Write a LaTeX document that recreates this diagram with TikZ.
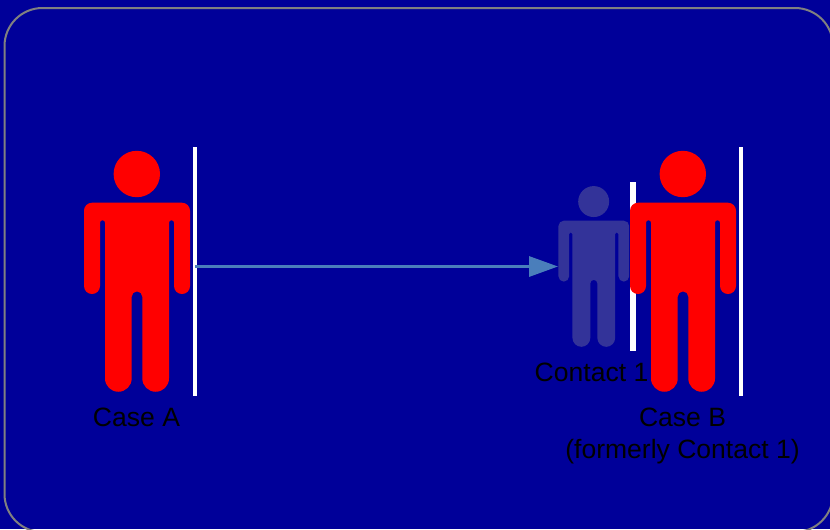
\documentclass[tikz,border=0pt]{standalone}
\usepackage{fontspec}
\setmainfont{Liberation Sans}
\usetikzlibrary{arrows.meta}
\definecolor{bgblue}{HTML}{000099}
\definecolor{dimblue}{HTML}{333399}
\definecolor{arrowblue}{HTML}{4A7EBB}
\tikzset{
  person/.pic={
    \fill[pic actions] (-0.2,28.7) circle[radius=23.2];
    \fill[pic actions] (-45,0) -- (45,0) arc[start angle=90,end angle=0,radius=8]
      -- (53,-83.3) arc[start angle=0,end angle=-180,radius=8]
      -- (37,-20) arc[start angle=0,end angle=180,radius=2.5]
      -- (32,-175.7) arc[start angle=0,end angle=-180,radius=13.35]
      -- (5.3,-94) arc[start angle=0,end angle=180,radius=5.3]
      -- (-5.3,-175.7) arc[start angle=0,end angle=-180,radius=13.35]
      -- (-32,-20) arc[start angle=0,end angle=180,radius=2.5]
      -- (-37,-83.3) arc[start angle=0,end angle=-180,radius=8]
      -- (-53,-8) arc[start angle=180,end angle=90,radius=8] -- cycle;
  },
  whitebar/.style={fill=white,draw=none,inner sep=0pt,minimum width=3pt,anchor=north},
  caption/.style={text=black,inner sep=0pt,anchor=base,font=\fontsize{19.9}{24}\selectfont},
  frame/.style={draw=gray,line width=1.5pt,rounded corners=28.5pt},
  link/.style={draw=arrowblue,line width=2.4pt,-{Triangle[length=21.75pt,width=15pt]}}
}
\begin{document}
\begin{tikzpicture}[x=0.75pt,y=0.75pt]
\useasboundingbox (0,0) rectangle (830,-529);
\clip (0,0) rectangle (830,-529);
\fill[bgblue] (0,0) rectangle (830,-529);
\draw[frame] (4.5,-8) rectangle (833,-532);
% Case A
\pic[fill=red] at (137,-202.7) {person};
\node[whitebar,minimum height=186.75pt] (barA) at (195,-147) {};
\node[caption] (labelA) at (136.5,-426.3) {Case A};
% Contact 1
\pic[fill=dimblue,scale=0.667] at (593.8,-220.7) {person};
\coordinate (contact) at (558,-266.5);
\coordinate (source) at (195,-266.5);
\node[whitebar,minimum width=4.5pt,minimum height=126.75pt] (barC) at (633,-182) {};
\node[caption] (labelC) at (591.5,-381) {Contact 1};
% Case B
\pic[fill=red] at (683,-202.7) {person};
\node[whitebar,minimum height=186.75pt] (barB) at (741,-147) {};
\node[caption] (labelB) at (682.5,-426) {Case B};
\node[caption] (labelB2) at (682.5,-458) {(formerly Contact 1)};
% Connector
\draw[link] (source) -- (contact);
\end{tikzpicture}
\end{document}
